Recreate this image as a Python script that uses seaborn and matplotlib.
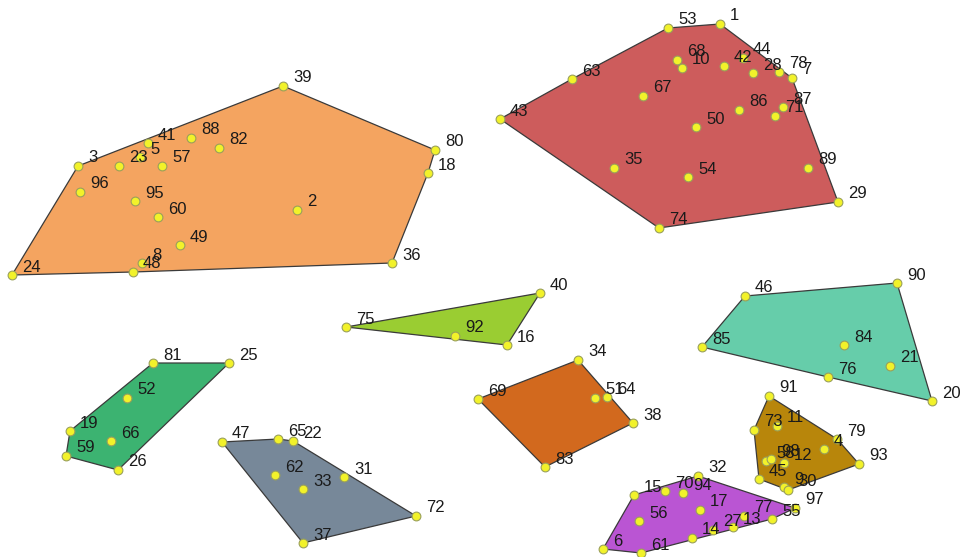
import matplotlib
matplotlib.use("Agg")
import matplotlib.pyplot as plt
from matplotlib.patches import Polygon
import pandas as pd
import seaborn as sns

# Cluster membership, point ids and positions (x to the right, y downward)
group_names = ["A", "B", "C", "D", "E", "F", "G", "H", "I"]
group_colors = ["#F4A460", "#CD5C5C", "#9ACD32", "#D2691E", "#66CDAA",
                "#3CB371", "#778899", "#B8860B", "#BA55D3"]

ids_A = [39, 80, 18, 36, 24, 48, 8, 3, 41, 5, 88, 82, 23, 57, 96, 95, 60, 49, 2]
x_A = [283, 435, 428, 392, 12, 133, 142, 78, 148, 140, 191, 219, 119, 162, 80, 135, 158, 180, 297]
y_A = [86, 150, 173, 263, 275, 272, 263, 166, 143, 157, 138, 148, 166, 166, 192, 201, 217, 245, 210]

ids_B = [53, 1, 63, 43, 74, 29, 89, 35, 54, 50, 67, 86, 71, 87, 68, 10, 42, 44, 28, 78, 7]
x_B = [668, 720, 572, 500, 659, 838, 808, 614, 688, 696, 643, 739, 775, 783, 677, 682, 724, 743, 753, 779, 792]
y_B = [28, 24, 79, 119, 228, 202, 168, 168, 177, 127, 96, 110, 116, 107, 60, 68, 66, 58, 73, 72, 78]

ids_C = [40, 75, 92, 16]
x_C = [540, 346, 455, 507]
y_C = [293, 327, 336, 345]

ids_D = [34, 69, 51, 64, 38, 83]
x_D = [578, 478, 595, 607, 633, 545]
y_D = [360, 399, 398, 397, 423, 467]

ids_E = [46, 90, 85, 84, 21, 76, 20]
x_E = [745, 897, 702, 844, 890, 828, 932]
y_E = [296, 283, 347, 345, 366, 377, 401]

ids_F = [81, 25, 52, 19, 66, 59, 26]
x_F = [153, 229, 127, 70, 111, 66, 118]
y_F = [363, 363, 398, 431, 441, 456, 470]

ids_G = [47, 65, 22, 62, 33, 31, 72, 37]
x_G = [222, 278, 293, 275, 303, 344, 416, 303]
y_G = [442, 439, 441, 475, 489, 477, 516, 543]

ids_H = [91, 73, 11, 79, 4, 93, 58, 98, 12, 45, 9, 30]
x_H = [769, 754, 777, 837, 824, 859, 766, 771, 784, 759, 784, 788]
y_H = [396, 430, 426, 439, 449, 464, 461, 459, 463, 479, 487, 490]

ids_I = [32, 15, 70, 94, 17, 56, 6, 61, 14, 27, 13, 77, 55, 97]
x_I = [698, 634, 665, 683, 700, 639, 603, 641, 692, 713, 733, 744, 772, 795]
y_I = [476, 495, 491, 493, 510, 521, 549, 553, 538, 530, 527, 516, 519, 508]

groups = {
    "A": (ids_A, x_A, y_A), "B": (ids_B, x_B, y_B), "C": (ids_C, x_C, y_C),
    "D": (ids_D, x_D, y_D), "E": (ids_E, x_E, y_E), "F": (ids_F, x_F, y_F),
    "G": (ids_G, x_G, y_G), "H": (ids_H, x_H, y_H), "I": (ids_I, x_I, y_I),
}

rows = []
for g in group_names:
    ids, xs, ys = groups[g]
    for i, xv, yv in zip(ids, xs, ys):
        rows.append({"id": i, "x": xv, "y": yv, "group": g})
df = pd.DataFrame(rows)


def convex_hull(points):
    pts = sorted(set(points))
    if len(pts) <= 2:
        return pts

    def cross(o, a, b):
        return (a[0] - o[0]) * (b[1] - o[1]) - (a[1] - o[1]) * (b[0] - o[0])

    lower, upper = [], []
    for p in pts:
        while len(lower) >= 2 and cross(lower[-2], lower[-1], p) <= 0:
            lower.pop()
        lower.append(p)
    for p in reversed(pts):
        while len(upper) >= 2 and cross(upper[-2], upper[-1], p) <= 0:
            upper.pop()
        upper.append(p)
    return lower[:-1] + upper[:-1]


sns.set_theme(style="white")
plt.rcParams["font.family"] = ["Liberation Sans", "DejaVu Sans"]

fig = plt.figure(figsize=(9.6, 5.57), dpi=100)
ax = fig.add_axes([0, 0, 1, 1])

for g, color in zip(group_names, group_colors):
    sub = df[df["group"] == g]
    hull = convex_hull(list(zip(sub["x"], sub["y"])))
    ax.add_patch(Polygon(hull, closed=True, facecolor=color,
                         edgecolor="#3a3a3a", linewidth=0.9, zorder=1))

sns.scatterplot(data=df, x="x", y="y", ax=ax, color="#F2F22A",
                edgecolor="#9AA05A", linewidth=0.8, s=40, zorder=3,
                legend=False)

for _, r in df.iterrows():
    ax.annotate(str(r["id"]), (r["x"], r["y"]), xytext=(10, 8),
                textcoords="offset pixels", ha="left", va="center",
                fontsize=12, color="#1a1a1a", zorder=4)

ax.set_xlim(0, 960)
ax.set_ylim(557, 0)
ax.set_axis_off()

fig.savefig("out.png", dpi=100, facecolor="white")
